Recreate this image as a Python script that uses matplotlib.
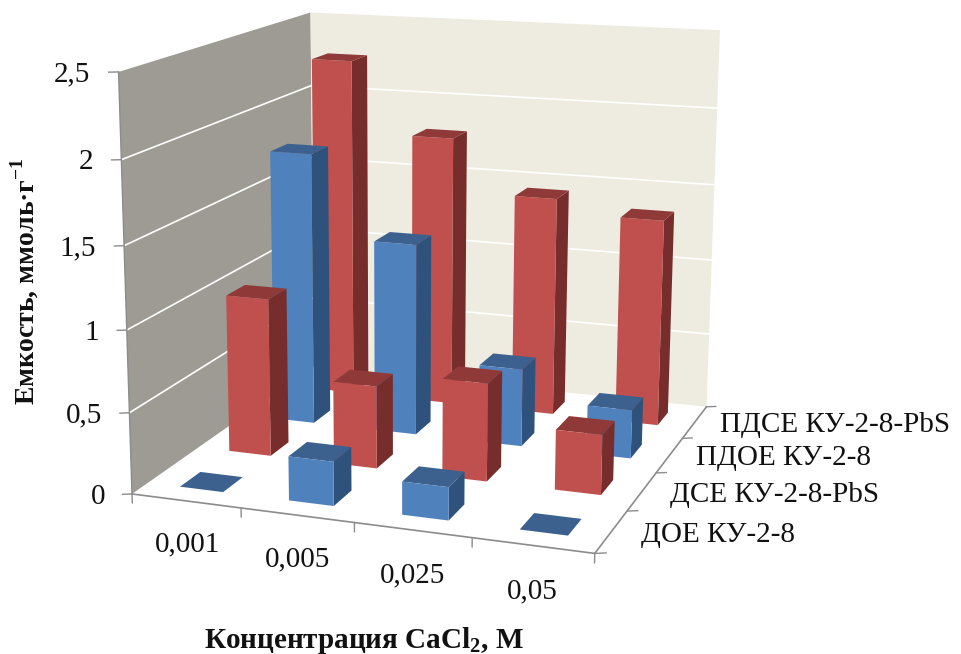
import numpy as np
import matplotlib
matplotlib.use('Agg')
import matplotlib.pyplot as plt
from mpl_toolkits.mplot3d.art3d import Poly3DCollection

concentrations = ['0,001', '0,005', '0,025', '0,05']
series_names = ['ДОЕ КУ-2-8', 'ДСЕ КУ-2-8-PbS', 'ПДОЕ КУ-2-8', 'ПДСЕ КУ-2-8-PbS']
doe = [0, 0.27, 0.2, 0]
dse = [1.0, 0.52, 0.61, 0.37]
pdoe = [1.77, 1.24, 0.5, 0.31]
pdse = [2.26, 1.79, 1.44, 1.35]
z_ticks = [0, 0.5, 1, 1.5, 2, 2.5]
z_tick_labels = ['0', '0,5', '1', '1,5', '2', '2,5']

RED = ['#c0504d', '#8f3a38', '#772d2c']    # front, top, side
BLUE = ['#4f81bd', '#3c618f', '#2f527c']
BAR_WIDTH = 0.4
CLEAR = (0, 0, 0, 0)
AXIS_GREY = '#8c8c8c'
TEXT = '#111111'

plt.rcParams['font.family'] = ['Liberation Serif', 'DejaVu Sans']
plt.rcParams['mathtext.fontset'] = 'custom'
plt.rcParams['mathtext.rm'] = 'Liberation Serif'
plt.rcParams['mathtext.bf'] = 'Liberation Serif:bold'


def camera_matrix(world, screen):
    # least squares homography from box coordinates to figure pixels
    rows = []
    for (x, y, z), (u, v) in zip(world, screen):
        u, v = u / 1000, v / 1000
        rows.append([x, y, z, 1, 0, 0, 0, 0, -u * x, -u * y, -u * z, -u])
        rows.append([0, 0, 0, 0, x, y, z, 1, -v * x, -v * y, -v * z, -v])
    P = np.linalg.svd(np.array(rows))[2][-1].reshape(3, 4)
    P[:2] *= 1000
    if P[2] @ np.array([2, 2, 1, 1]) < 0:
        P = -P
    return P


# box corners and axis ticks, with where they land in the figure (y from top)
cam_world = [(0, 0, 0), (4, 0, 0), (4, 4, 0), (0, 4, 0), (0, 0, 2.5), (0, 4, 2.5), (4, 4, 2.5),
             (0, 0, 0.5), (0, 0, 1), (0, 0, 1.5), (0, 0, 2),
             (1, 0, 0), (2, 0, 0), (3, 0, 0), (4, 1, 0), (4, 2, 0), (4, 3, 0)]
cam_screen = [(133, 493), (593, 553), (706, 405), (313, 368), (118, 72), (311, 12), (720, 31),
              (130, 412), (127, 330), (124, 245), (121, 160),
              (241, 508), (354, 523), (472, 540), (628, 511), (657, 473), (683, 438)]

W, H = 961, 654
fig = plt.figure(figsize=(W / 100, H / 100), dpi=100, facecolor='white')
ax = fig.add_axes([0, (1 - W / H) / 2, 1, W / H], projection='3d', computed_zorder=False)
ax.set_xticks([])
ax.set_yticks([])
ax.set_zticks([])
ax.set_axis_off()
ax.apply_aspect()

screen_up = [(u, H - v) for u, v in cam_screen]
P = ax.transData.inverted().get_matrix() @ camera_matrix(cam_world, screen_up)
M = np.vstack([P[0], P[1], [0, 0, 0, -1], P[2]])
ax.get_proj = lambda: M

# walls and floor
left_wall = [(0, 0, 0), (0, 4, 0), (0, 4, 2.5), (0, 0, 2.5)]
back_wall = [(0, 4, 0), (4, 4, 0), (4, 4, 2.5), (0, 4, 2.5)]
ax.add_collection3d(Poly3DCollection([left_wall], facecolor='#9d9b93', edgecolor='none', zorder=1))
ax.add_collection3d(Poly3DCollection([back_wall], facecolor='#eeece1', edgecolor='none', zorder=1))

for z in z_ticks[1:-1]:
    ax.plot([0, 0, 4], [0, 4, 4], [z, z, z], color='white', lw=1.2, zorder=2)

# axis lines and ticks
ax.plot([0, 0], [0, 0], [0, 2.5], color=AXIS_GREY, lw=1, zorder=3)
ax.plot([0, 4, 4], [0, 0, 4], [0, 0, 0], color=AXIS_GREY, lw=1.2, zorder=3)
for z in z_ticks:
    ax.plot([0, -0.07], [0, -0.035], [z, z], color=AXIS_GREY, lw=1, zorder=3)
for i in range(5):
    ax.plot([i, i], [0, 0], [0, -0.055], color=AXIS_GREY, lw=1, zorder=3)
for j in range(5):
    ax.plot([4, 4.08], [j, j + 0.04], [0, 0], color=AXIS_GREY, lw=1, zorder=3)

# bars go back to front, left to right, so nearer ones cover farther ones
rows = [(doe, BLUE), (dse, RED), (pdoe, BLUE), (pdse, RED)]
order = 10
for j in range(3, -1, -1):
    values, palette = rows[j]
    for i, value in enumerate(values):
        front, top, side = palette
        faces = [CLEAR, top, front, CLEAR, CLEAR, side]
        ax.bar3d(i + 0.3, j + 0.3, 0, BAR_WIDTH, BAR_WIDTH, value, color=faces,
                 shade=False, edgecolor='none', zorder=order)
        order += 1

for z, label in zip(z_ticks, z_tick_labels):
    ax.text(-0.2, -0.1, z - 0.01, label, ha='right', va='center', fontsize=21, color=TEXT)
for i, label in enumerate(concentrations):
    ax.text(i + 0.5, 0, -0.27, label, ha='center', va='center', fontsize=21, color=TEXT)
for j, label in enumerate(series_names):
    ax.text(4.24, j + 0.5, 0, label, ha='left', va='center', fontsize=21, color=TEXT)

fig.text(25 / W, 1 - 281 / H, 'Емкость, ммоль·г$^{\\mathbf{-1}}$', rotation=90, ha='center', va='center',
         fontsize=20, fontweight='bold', color=TEXT)
fig.text(364 / W, 1 - 641 / H, 'Концентрация CaCl$_{\\mathbf{2}}$, М', ha='center', va='center',
         fontsize=21, fontweight='bold', color=TEXT)

fig.savefig('out.png', dpi=100)
